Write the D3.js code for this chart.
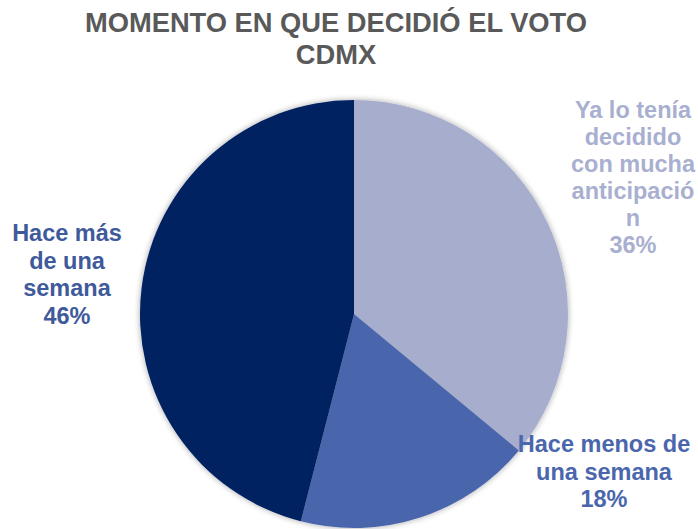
<!DOCTYPE html>
<html>
<head>
<meta charset="utf-8">
<script src="https://cdn.jsdelivr.net/npm/d3@7"></script>
<style>
  html, body { margin: 0; padding: 0; background: #ffffff; }
  svg { display: block; }
  text { font-family: "Liberation Sans", Arial, sans-serif; font-weight: bold; }
</style>
</head>
<body>
<svg id="chart" width="698" height="529"></svg>
<script>
// Momento en que decidió el voto — CDMX
const categories = ["Ya lo tenía decidido con mucha anticipación", "Hace menos de una semana", "Hace más de una semana"];
const values = [36, 18, 46];
const sliceColors = ["#A7AECD", "#4A66AC", "#002060"];
const labelColors = ["#A9AFD0", "#4A66AC", "#3F5A9A"];
// label text broken into lines as shown beside each slice
const labelLines = [
  ["Ya lo tenía", "decidido", "con mucha", "anticipació", "n", "36%"],
  ["Hace menos de", "una semana", "18%"],
  ["Hace más", "de una", "semana", "46%"]
];
const titleLines = ["MOMENTO EN QUE DECIDIÓ EL VOTO", "CDMX"];

const width = 698, height = 529;
const cx = 354, cy = 314, radius = 214;

const svg = d3.select("#chart");

// soft shadow around the pie
const defs = svg.append("defs");
const f = defs.append("filter").attr("id", "shadow")
  .attr("x", "-10%").attr("y", "-10%").attr("width", "120%").attr("height", "120%");
f.append("feGaussianBlur").attr("in", "SourceAlpha").attr("stdDeviation", 3).attr("result", "b");
f.append("feComponentTransfer").attr("in", "b").attr("result", "s")
  .append("feFuncA").attr("type", "linear").attr("slope", 0.35);
const m = f.append("feMerge");
m.append("feMergeNode").attr("in", "s");
m.append("feMergeNode").attr("in", "SourceGraphic");

// title
svg.append("g").selectAll("text").data(titleLines).join("text")
  .attr("x", 336)
  .attr("y", (d, i) => 32 + i * 32)
  .attr("text-anchor", "middle")
  .attr("fill", "#595959")
  .attr("font-size", 27.3)
  .text(d => d);

const pie = d3.pie().sort(null).value(d => d)
  .startAngle(0).endAngle(2 * Math.PI);
const arc = d3.arc().innerRadius(0).outerRadius(radius);

const g = svg.append("g")
  .attr("transform", `translate(${cx},${cy})`)
  .attr("filter", "url(#shadow)");
g.selectAll("path").data(pie(values)).join("path")
  .attr("d", arc)
  .attr("fill", (d, i) => sliceColors[i]);

// data labels
const labelAnchors = [
  { x: 633, y: 118, lh: 27 },
  { x: 604, y: 452, lh: 27.5 },
  { x: 67, y: 241, lh: 27.5 }
];
labelLines.forEach((lines, i) => {
  svg.append("g").selectAll("text").data(lines).join("text")
    .attr("x", labelAnchors[i].x)
    .attr("y", (d, j) => labelAnchors[i].y + j * labelAnchors[i].lh)
    .attr("text-anchor", "middle")
    .attr("fill", labelColors[i])
    .attr("font-size", 23.5)
    .text(d => d);
});
</script>
</body>
</html>
